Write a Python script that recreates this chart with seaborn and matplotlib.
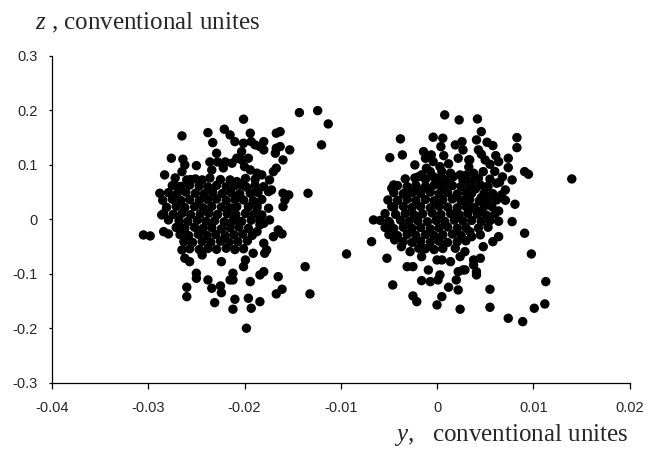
import matplotlib
matplotlib.use("Agg")
import matplotlib.pyplot as plt
import seaborn as sns
import pandas as pd

# ---- data: (y, z) pairs ----
left_points = [
    (-0.0265, 0.1532), (-0.0238, 0.1593), (-0.0221, 0.1655), (-0.0215, 0.1550), (-0.0233, 0.1409),
    (-0.0229, 0.1214), (-0.0276, 0.1122), (-0.0264, 0.1104), (-0.0262, 0.0999), (-0.0250, 0.0986),
    (-0.0236, 0.1054), (-0.0234, 0.0907), (-0.0228, 0.1054), (-0.0220, 0.1054), (-0.0222, 0.0944),
    (-0.0283, 0.0816), (-0.0265, 0.0876), (-0.0272, 0.0760), (-0.0260, 0.0724), (-0.0256, 0.0730),
    (-0.0270, 0.0601), (-0.0288, 0.0479), (-0.0244, 0.0724), (-0.0201, 0.1839), (-0.0143, 0.1960),
    (-0.0124, 0.1997), (-0.0113, 0.1752), (-0.0120, 0.1367), (-0.0167, 0.1582), (-0.0163, 0.1611),
    (-0.0194, 0.1582), (-0.0210, 0.1427), (-0.0201, 0.1398), (-0.0193, 0.1427), (-0.0189, 0.1367),
    (-0.0180, 0.1427), (-0.0184, 0.1336), (-0.0180, 0.1275), (-0.0167, 0.1306), (-0.0163, 0.1336),
    (-0.0153, 0.1275), (-0.0203, 0.1244), (-0.0168, 0.1214), (-0.0208, 0.1122), (-0.0203, 0.1091),
    (-0.0196, 0.1122), (-0.0160, 0.1091), (-0.0200, 0.0968), (-0.0194, 0.0907), (-0.0167, 0.0939),
    (-0.0170, 0.0876), (-0.0187, 0.0847), (-0.0182, 0.0816), (-0.0213, 0.1031), (-0.0215, 0.0724),
    (-0.0208, 0.0693), (-0.0203, 0.0632), (-0.0174, 0.0724), (-0.0180, 0.0601), (-0.0189, 0.0509),
    (-0.0194, 0.0479), (-0.0175, 0.0509), (-0.0172, 0.0540), (-0.0160, 0.0479), (-0.0154, 0.0448),
    (-0.0134, 0.0479), (-0.0158, 0.0356), (-0.0160, 0.0233), (-0.0175, 0.0204), (-0.0187, 0.0265),
    (-0.0201, 0.0356), (-0.0208, 0.0233), (-0.0174, -0.0011), (-0.0184, -0.0103), (-0.0180, -0.0072),
    (-0.0187, -0.0226), (-0.0165, -0.0195), (-0.0161, -0.0268), (-0.0170, -0.0318), (-0.0180, -0.0439),
    (-0.0191, -0.0623), (-0.0179, -0.0623), (-0.0177, -0.0562), (-0.0199, -0.0746), (-0.0201, -0.0869),
    (-0.0137, -0.0869), (-0.0180, -0.0961), (-0.0184, -0.1021), (-0.0212, -0.0990), (-0.0212, -0.1113),
    (-0.0165, -0.1053), (-0.0194, -0.1144), (-0.0161, -0.1284), (-0.0167, -0.1370), (-0.0132, -0.1370),
    (-0.0210, -0.1468), (-0.0196, -0.1449), (-0.0184, -0.1512), (-0.0212, -0.1651), (-0.0193, -0.1633),
    (-0.0198, -0.2000), (-0.0286, 0.0081), (-0.0305, -0.0287), (-0.0298, -0.0305), (-0.0284, -0.0226),
    (-0.0279, -0.0268), (-0.0279, -0.0011), (-0.0268, -0.0103), (-0.0265, -0.0562), (-0.0262, -0.0715),
    (-0.0257, -0.0777), (-0.0244, -0.0654), (-0.0250, -0.0990), (-0.0250, -0.1082), (-0.0260, -0.1247),
    (-0.0260, -0.1420), (-0.0238, -0.1113), (-0.0234, -0.1266), (-0.0225, -0.1223), (-0.0224, -0.1347),
    (-0.0231, -0.1530), (-0.0215, -0.1113), (-0.0224, -0.0777),
]

left_core = [
    (-0.0251, 0.0742), (-0.0236, 0.0760), (-0.0225, 0.0730), (-0.0199, 0.0750), (-0.0189, 0.0735),
    (-0.0275, 0.0620), (-0.0266, 0.0605), (-0.0257, 0.0630), (-0.0247, 0.0610), (-0.0238, 0.0595),
    (-0.0229, 0.0625), (-0.0219, 0.0600), (-0.0210, 0.0618), (-0.0198, 0.0590), (-0.0189, 0.0625),
    (-0.0279, 0.0490), (-0.0270, 0.0470), (-0.0261, 0.0500), (-0.0251, 0.0480), (-0.0242, 0.0465),
    (-0.0233, 0.0495), (-0.0223, 0.0475), (-0.0214, 0.0490), (-0.0205, 0.0470), (-0.0186, 0.0495),
    (-0.0285, 0.0350), (-0.0275, 0.0370), (-0.0266, 0.0345), (-0.0257, 0.0365), (-0.0247, 0.0340),
    (-0.0238, 0.0360), (-0.0229, 0.0375), (-0.0219, 0.0345), (-0.0210, 0.0362), (-0.0191, 0.0340),
    (-0.0182, 0.0365), (-0.0281, 0.0220), (-0.0271, 0.0240), (-0.0262, 0.0215), (-0.0252, 0.0235),
    (-0.0243, 0.0210), (-0.0234, 0.0240), (-0.0224, 0.0225), (-0.0215, 0.0210), (-0.0196, 0.0230),
    (-0.0187, 0.0215), (-0.0284, 0.0105), (-0.0274, 0.0090), (-0.0265, 0.0110), (-0.0256, 0.0085),
    (-0.0246, 0.0100), (-0.0237, 0.0115), (-0.0228, 0.0090), (-0.0218, 0.0105), (-0.0209, 0.0085),
    (-0.0199, 0.0110), (-0.0190, 0.0095), (-0.0182, 0.0080), (-0.0268, -0.0020), (-0.0259, -0.0040),
    (-0.0249, -0.0015), (-0.0240, -0.0035), (-0.0231, -0.0025), (-0.0221, -0.0045), (-0.0212, -0.0020),
    (-0.0203, -0.0038), (-0.0193, -0.0015), (-0.0184, -0.0030), (-0.0271, -0.0150), (-0.0262, -0.0170),
    (-0.0252, -0.0145), (-0.0243, -0.0165), (-0.0234, -0.0150), (-0.0224, -0.0175), (-0.0215, -0.0155),
    (-0.0206, -0.0140), (-0.0196, -0.0165), (-0.0267, -0.0280), (-0.0258, -0.0300), (-0.0248, -0.0275),
    (-0.0239, -0.0295), (-0.0230, -0.0280), (-0.0220, -0.0300), (-0.0211, -0.0285), (-0.0202, -0.0270),
    (-0.0192, -0.0295), (-0.0263, -0.0410), (-0.0254, -0.0425), (-0.0244, -0.0405), (-0.0235, -0.0420),
    (-0.0225, -0.0400), (-0.0216, -0.0425), (-0.0207, -0.0410), (-0.0197, -0.0395), (-0.0257, -0.0540),
    (-0.0247, -0.0555), (-0.0238, -0.0535), (-0.0229, -0.0550), (-0.0219, -0.0530), (-0.0210, -0.0555),
    (-0.0201, -0.0540),
]

right_points = [
    (0.0008, 0.1918), (0.0023, 0.1826), (-0.0038, 0.1477), (-0.0004, 0.1508), (0.0006, 0.1490),
    (0.0004, 0.1336), (0.0019, 0.1367), (0.0026, 0.1427), (0.0027, 0.1275), (-0.0049, 0.1133),
    (-0.0036, 0.1183), (-0.0014, 0.1244), (-0.0012, 0.1122), (-0.0006, 0.1183), (-0.0004, 0.1060),
    (0.0007, 0.1170), (0.0022, 0.1122), (0.0033, 0.1091), (-0.0023, 0.0999), (-0.0011, 0.0939),
    (-0.0007, 0.0876), (0.0003, 0.0968), (0.0005, 0.0876), (-0.0019, 0.0784), (-0.0016, 0.0816),
    (-0.0004, 0.0784), (0.0014, 0.0847), (0.0017, 0.0784), (0.0024, 0.0816), (0.0027, 0.0724),
    (-0.0045, 0.0632), (-0.0047, 0.0571), (0.0003, 0.0632), (0.0012, 0.0663), (-0.0031, 0.0540),
    (-0.0025, 0.0509), (-0.0016, 0.0540), (-0.0051, 0.0356), (-0.0047, 0.0233), (0.0042, 0.1844),
    (0.0046, 0.1611), (0.0083, 0.1501), (0.0083, 0.1317), (0.0041, 0.1459), (0.0052, 0.1416),
    (0.0058, 0.1354), (0.0043, 0.1275), (0.0046, 0.1196), (0.0034, 0.1091), (0.0061, 0.1170),
    (0.0064, 0.1060), (0.0074, 0.1122), (0.0074, 0.0950), (0.0050, 0.1091), (0.0055, 0.1012),
    (0.0091, 0.0876), (0.0095, 0.0828), (0.0140, 0.0742), (0.0048, 0.0876), (0.0038, 0.0847),
    (0.0030, 0.0810), (0.0078, 0.0724), (0.0062, 0.0663), (0.0065, 0.0682), (0.0036, 0.0693),
    (0.0045, 0.0632), (0.0052, 0.0601), (0.0071, 0.0540), (0.0036, 0.0479), (0.0046, 0.0399),
    (0.0029, 0.0356), (0.0062, 0.0356), (0.0081, 0.0277), (0.0057, 0.0233), (0.0064, 0.0154),
    (0.0036, 0.0204), (0.0045, 0.0141), (-0.0066, -0.0011), (-0.0068, -0.0410), (-0.0049, -0.0072),
    (-0.0047, -0.0195), (-0.0044, -0.0378), (-0.0037, -0.0502), (-0.0052, -0.0715), (-0.0028, -0.0593),
    (-0.0019, -0.0531), (-0.0016, -0.0685), (-0.0031, -0.0869), (-0.0025, -0.0869), (-0.0009, -0.0930),
    (0.0000, -0.0746), (0.0005, -0.0746), (0.0014, -0.0777), (0.0019, -0.0531), (0.0024, -0.0685),
    (0.0003, -0.1021), (0.0001, -0.1113), (-0.0007, -0.1144), (-0.0016, -0.1126), (0.0022, -0.0961),
    (0.0027, -0.0929), (0.0020, -0.1113), (0.0012, -0.1247), (0.0022, -0.1297), (-0.0046, -0.1205),
    (-0.0025, -0.1407), (-0.0021, -0.1512), (0.0005, -0.1420), (0.0000, -0.1572), (0.0024, -0.1651),
    (0.0078, -0.0042), (0.0091, -0.0255), (0.0064, -0.0318), (0.0058, -0.0410), (0.0098, -0.0636),
    (0.0048, -0.0502), (0.0034, -0.0226), (0.0036, -0.0318), (0.0029, -0.0593), (0.0038, -0.0746),
    (0.0045, -0.0715), (0.0038, -0.0838), (0.0029, -0.0929), (0.0041, -0.0961), (0.0041, -0.1021),
    (0.0113, -0.1144), (0.0055, -0.1284), (0.0112, -0.1554), (0.0101, -0.1633), (0.0055, -0.1615),
    (0.0074, -0.1817), (0.0089, -0.1879), (-0.0094, -0.0636),
]

right_core = [
    (-0.0033, 0.0742), (-0.0023, 0.0760), (-0.0012, 0.0735), (0.0000, 0.0750), (0.0008, 0.0730),
    (0.0043, 0.0755), (0.0055, 0.0738), (-0.0041, 0.0620), (-0.0031, 0.0600), (-0.0022, 0.0625),
    (-0.0012, 0.0605), (-0.0003, 0.0630), (0.0006, 0.0598), (0.0016, 0.0620), (0.0025, 0.0605),
    (0.0034, 0.0625), (0.0053, 0.0600), (-0.0045, 0.0490), (-0.0035, 0.0470), (-0.0026, 0.0495),
    (-0.0017, 0.0475), (-0.0007, 0.0500), (0.0002, 0.0470), (0.0011, 0.0490), (0.0021, 0.0465),
    (0.0030, 0.0495), (0.0049, 0.0480), (0.0058, 0.0470), (-0.0041, 0.0350), (-0.0031, 0.0370),
    (-0.0022, 0.0345), (-0.0012, 0.0365), (-0.0003, 0.0340), (0.0006, 0.0360), (0.0016, 0.0375),
    (0.0025, 0.0345), (0.0034, 0.0365), (0.0044, 0.0340), (0.0053, 0.0362), (0.0071, 0.0350),
    (-0.0045, 0.0220), (-0.0035, 0.0240), (-0.0026, 0.0215), (-0.0017, 0.0235), (-0.0007, 0.0210),
    (0.0002, 0.0240), (0.0011, 0.0225), (0.0021, 0.0210), (0.0030, 0.0235), (0.0039, 0.0220),
    (0.0049, 0.0240), (-0.0054, 0.0105), (-0.0043, 0.0090), (-0.0033, 0.0110), (-0.0024, 0.0085),
    (-0.0015, 0.0100), (-0.0005, 0.0115), (0.0004, 0.0090), (0.0014, 0.0105), (0.0023, 0.0085),
    (0.0032, 0.0110), (0.0042, 0.0095), (0.0051, 0.0080), (0.0060, 0.0100), (-0.0059, -0.0020),
    (-0.0050, -0.0040), (-0.0038, -0.0015), (-0.0029, -0.0035), (-0.0020, -0.0025), (-0.0010, -0.0045),
    (-0.0001, -0.0020), (0.0008, -0.0038), (0.0018, -0.0015), (0.0027, -0.0030), (0.0036, -0.0020),
    (0.0046, -0.0040), (0.0055, -0.0025), (0.0064, -0.0035), (-0.0054, -0.0150), (-0.0045, -0.0170),
    (-0.0035, -0.0145), (-0.0026, -0.0165), (-0.0017, -0.0150), (-0.0007, -0.0175), (0.0002, -0.0155),
    (0.0011, -0.0140), (0.0021, -0.0165), (0.0030, -0.0150), (0.0043, -0.0160), (0.0053, -0.0145),
    (-0.0050, -0.0280), (-0.0041, -0.0300), (-0.0031, -0.0275), (-0.0022, -0.0295), (-0.0012, -0.0280),
    (-0.0003, -0.0300), (0.0006, -0.0285), (0.0016, -0.0270), (0.0025, -0.0295), (0.0045, -0.0285),
    (-0.0035, -0.0410), (-0.0026, -0.0425), (-0.0017, -0.0405), (-0.0007, -0.0420), (0.0002, -0.0400),
    (0.0011, -0.0425), (0.0021, -0.0410), (0.0030, -0.0395), (-0.0012, -0.0540), (-0.0003, -0.0555),
    (0.0006, -0.0535), (0.0033, 0.0960), (0.0060, 0.0880), (0.0068, 0.0780), (0.0012, 0.1020),
    (0.0040, 0.0560), (0.0067, 0.0450),
]

x_ticks = [-0.04, -0.03, -0.02, -0.01, 0.0, 0.01, 0.02]
x_tick_labels = ["-0.04", "-0.03", "-0.02", "-0.01", "0", "0.01", "0.02"]
z_ticks = [-0.3, -0.2, -0.1, 0.0, 0.1, 0.2, 0.3]
z_tick_labels = ["-0.3", "-0.2", "-0.1", "0", "0.1", "0.2", "0.3"]

# ---- build frame ----
all_points = left_points + left_core + right_points + right_core
df = pd.DataFrame(all_points, columns=["y", "z"])

sns.set_style("ticks")
plt.rcParams["font.family"] = ["Liberation Sans", "DejaVu Sans"]
plt.rcParams["axes.unicode_minus"] = False
plt.rcParams["mathtext.fontset"] = "custom"
plt.rcParams["mathtext.it"] = "Liberation Serif:italic"
plt.rcParams["mathtext.rm"] = "Liberation Serif"

fig = plt.figure(figsize=(6.46, 4.5), dpi=100)
ax = fig.add_axes([0.0805, 0.1496, 0.894, 0.7260])

sns.scatterplot(data=df, x="y", y="z", color="black", s=46, linewidth=0,
                edgecolor="none", ax=ax, legend=False, zorder=3)

ax.set_xlim(-0.04, 0.02)
ax.set_ylim(-0.3, 0.3)
ax.set_xticks(x_ticks)
ax.set_xticklabels(x_tick_labels)
ax.set_yticks(z_ticks)
ax.set_yticklabels(z_tick_labels)
ax.set_xlabel("")
ax.set_ylabel("")

for side in ("top", "right"):
    ax.spines[side].set_visible(False)
for side in ("left", "bottom"):
    ax.spines[side].set_color("black")
    ax.spines[side].set_linewidth(0.9)

ax.tick_params(axis="x", direction="out", length=4, width=0.9, color="black",
               labelsize=10.5, pad=9)
ax.tick_params(axis="y", direction="out", length=2.5, width=0.9, color="black",
               labelsize=10.5, pad=8)

fig.text(35 / 646, 1 - 29 / 450, r"$z$ , conventional unites",
         fontsize=18, family="Liberation Serif", ha="left", va="baseline")
fig.text(628 / 646, 1 - 441 / 450, r"$y$,   conventional unites",
         fontsize=18, family="Liberation Serif", ha="right", va="baseline")

fig.savefig("out.png", dpi=100)
